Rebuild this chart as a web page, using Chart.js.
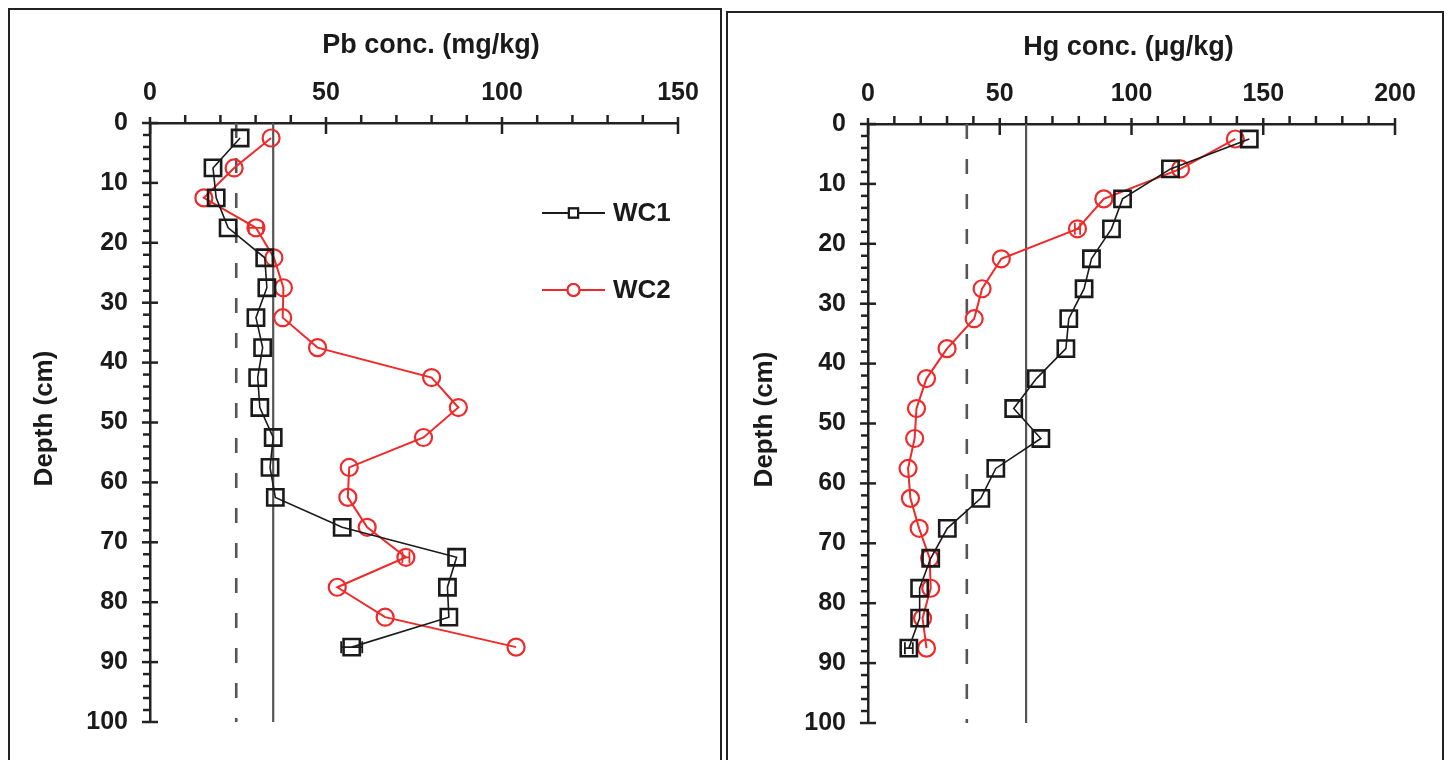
<!DOCTYPE html>
<html><head><meta charset="utf-8">
<script src="https://cdn.jsdelivr.net/npm/chart.js@4.4.0/dist/chart.umd.min.js"></script>
<style>
html,body{margin:0;padding:0;background:#fff;width:1448px;height:760px;overflow:hidden;}
.panel{position:absolute;border:2px solid #222;box-sizing:border-box;}
#p1{left:8px;top:8px;width:714px;height:780px;}
#p2{left:726px;top:11px;width:718px;height:780px;}
canvas{position:absolute;top:0;display:block;}
#c1{left:0}
#c2{left:724px}
</style></head><body>
<div class="panel" id="p1"></div><div class="panel" id="p2"></div>
<canvas id="c1" width="724" height="760"></canvas>
<canvas id="c2" width="724" height="760"></canvas>
<script>
// ---------- data ----------
const depths   = [2.5,7.5,12.5,17.5,22.5,27.5,32.5,37.5,42.5,47.5,52.5,57.5,62.5,67.5,72.5,77.5,82.5,87.5];
const pbWC1    = [25.6,17.9,18.8,22.2,32.6,33.2,30.1,32.0,30.6,31.2,35.0,34.1,35.6,54.6,87.1,84.5,84.9,57.3];
const pbWC2    = [34.4,23.9,15.3,30.1,35.2,37.9,37.7,47.6,80.0,87.6,77.7,56.6,56.2,61.7,72.7,53.2,66.8,104.0];
const pbWC1Err = [0,0,0,0,0,0,0,0,0,0,0,0,0,0,0,0,0,3];
const pbWC2Err = [0,0,0,2,0,0,0,0,0,0,0,0,0,0,1,0,0,0];
const hgWC1    = [144.7,114.8,96.6,92.4,84.8,82.0,76.2,75.1,63.9,55.3,65.6,48.5,42.8,30.1,23.8,19.6,19.6,15.5];
const hgWC2    = [139.4,118.6,89.5,79.5,50.6,43.3,40.3,30.0,22.2,18.4,17.7,15.2,16.1,19.4,23.4,23.8,20.7,22.2];
const hgWC1Err = [0,0,0,0,0,0,0,0,0,0,0,0,0,0,0,0,0,1.5];
const hgWC2Err = [0,0,0,1,0,0,0,0,0,0,0,0,0,0,0,0,0,0];
const pbRef    = [24.5, 35];   // dashed, solid
const hgRef    = [37.5, 60];   // dashed, solid
const seriesNames = ['WC1','WC2'];
const depthTitle = 'Depth (cm)';
const pbTitle = 'Pb conc. (mg/kg)';
const hgTitle = 'Hg conc. (\u00b5g/kg)';
const pbMax = 150, hgMax = 200, depthMax = 100;

// ---------- helpers ----------
const FONT = "'Liberation Sans', Arial, sans-serif";
const TXT = '#1a1a1a';
const pts = (xs, ys) => xs.map((v, i) => ({x: v, y: ys[i]}));

const decor = {
  id: 'decor',
  afterDatasetsDraw(chart, args, o) {
    const {ctx, chartArea: ca, scales: {x, y}} = chart;
    ctx.save();
    // error bars
    chart.data.datasets.forEach(ds => {
      if (!ds.errs) return;
      ctx.strokeStyle = ds.borderColor; ctx.lineWidth = 1.8;
      ds.data.forEach((p, i) => {
        const e = ds.errs[i]; if (!e) return;
        const x1 = x.getPixelForValue(p.x - e), x2 = x.getPixelForValue(p.x + e), py = y.getPixelForValue(p.y);
        ctx.beginPath();
        ctx.moveTo(x1, py); ctx.lineTo(x2, py);
        ctx.moveTo(x1, py - 6); ctx.lineTo(x1, py + 6);
        ctx.moveTo(x2, py - 6); ctx.lineTo(x2, py + 6);
        ctx.stroke();
      });
    });
    ctx.restore();
  },
  afterDraw(chart, args, o) {
    const {ctx, chartArea: ca, scales: {x, y}} = chart;
    ctx.save();
    ctx.strokeStyle = '#222'; ctx.lineWidth = 2.5; ctx.lineCap = 'butt';
    // x ticks (top)
    for (let v = x.min; v <= x.max + 1e-9; v += o.xMinor) {
      const px = x.getPixelForValue(v);
      ctx.beginPath();
      if (Math.abs(v % o.xMajor) < 1e-9) { ctx.moveTo(px, ca.top - 6); ctx.lineTo(px, ca.top + 11); }
      else { ctx.moveTo(px, ca.top - 8); ctx.lineTo(px, ca.top); }
      ctx.stroke();
    }
    // y ticks (left)
    for (let v = y.min; v <= y.max + 1e-9; v += o.yMinor) {
      const py = y.getPixelForValue(v);
      ctx.beginPath();
      if (Math.abs(v % o.yMajor) < 1e-9) { ctx.moveTo(ca.left - 8, py); ctx.lineTo(ca.left + 8, py); }
      else { ctx.moveTo(ca.left - 7, py); ctx.lineTo(ca.left, py); }
      ctx.stroke();
    }
    // titles
    ctx.fillStyle = TXT;
    ctx.font = 'bold 27px ' + FONT;
    ctx.textAlign = 'center'; ctx.textBaseline = 'middle';
    ctx.fillText(o.xTitle, (ca.left + ca.right) / 2 + o.xTitleShift, o.xTitleY);
    ctx.save();
    ctx.translate(o.yTitleX, (ca.top + ca.bottom) / 2 - 4);
    ctx.rotate(-Math.PI / 2);
    ctx.font = 'bold 26px ' + FONT;
    ctx.fillText(o.yTitle, 0, 0);
    ctx.restore();
    // legend
    if (o.legend) {
      const L = o.legend;
      chart.data.datasets.filter(d => seriesNames.includes(d.label)).forEach((d, i) => {
        const ly = L.y + i * L.dy;
        ctx.strokeStyle = d.borderColor; ctx.lineWidth = 2;
        ctx.beginPath(); ctx.moveTo(L.x, ly); ctx.lineTo(L.x + L.w, ly); ctx.stroke();
        ctx.fillStyle = '#fff';
        Chart.helpers.drawPoint(ctx, {pointStyle: d.pointStyle, radius: d.pointStyle === 'rect' ? 6.5 : 6, borderWidth: 2.2, rotation: 0}, L.x + L.w / 2, ly);
        ctx.lineWidth = 2.2; ctx.strokeStyle = d.borderColor;
        Chart.helpers.drawPoint(ctx, {pointStyle: d.pointStyle, radius: d.pointStyle === 'rect' ? 6.5 : 6, borderWidth: 2.2, rotation: 0}, L.x + L.w / 2, ly);
        ctx.fillStyle = TXT; ctx.font = 'bold 26px ' + FONT;
        ctx.textAlign = 'left'; ctx.textBaseline = 'middle';
        ctx.fillText(d.label, L.x + L.w + 8, ly + 1);
      });
    }
    ctx.restore();
  }
};

function makeChart(id, xs1, xs2, e1, e2, ref, xMax, xTicksStep, geom, deco) {
  const refDs = (v, dash) => ({
    label: 'ref', data: [{x: v, y: 0}, {x: v, y: depthMax}], showLine: true,
    borderColor: '#555', borderWidth: dash ? 2.6 : 2.2, borderDash: dash ? [15, 20] : [],
    pointRadius: 0, order: 5
  });
  return new Chart(document.getElementById(id), {
    type: 'scatter',
    data: {
      datasets: [
        {label: seriesNames[0], data: pts(xs1, depths), errs: e1, showLine: true,
         borderColor: '#1a1a1a', borderWidth: 1.6, pointStyle: 'rect', pointRadius: 11.5,
         pointBorderWidth: 2.6, pointBackgroundColor: 'rgba(0,0,0,0)', pointBorderColor: '#1a1a1a', order: 1},
        {label: seriesNames[1], data: pts(xs2, depths), errs: e2, showLine: true,
         borderColor: '#ee2a2a', borderWidth: 2, pointStyle: 'circle', pointRadius: 8.5,
         pointBorderWidth: 2.2, pointBackgroundColor: 'rgba(0,0,0,0)', pointBorderColor: '#ee2a2a', order: 2},
        refDs(ref[0], true), refDs(ref[1], false)
      ]
    },
    options: {
      responsive: false, animation: false, devicePixelRatio: 1,
      layout: {padding: {left: 0, top: 0, right: geom.right, bottom: geom.bottom}},
      plugins: {legend: {display: false}, tooltip: {enabled: false}, decor: deco},
      scales: {
        x: {type: 'linear', position: 'top', min: 0, max: xMax,
            afterFit: s => { s.height = geom.top; },
            grid: {display: false, drawTicks: false},
            border: {display: true, color: '#222', width: 2.5},
            ticks: {stepSize: xTicksStep, padding: 15, color: TXT, font: {family: FONT, size: 25, weight: 'bold'}}},
        y: {type: 'linear', reverse: true, min: 0, max: depthMax,
            afterFit: s => { s.width = geom.left; },
            grid: {display: false, drawTicks: false},
            border: {display: true, color: '#222', width: 2.5},
            ticks: {stepSize: 10, padding: 22, color: TXT, font: {family: FONT, size: 25, weight: 'bold'}}}
      }
    },
    plugins: [decor]
  });
}

makeChart('c1', pbWC1, pbWC2, pbWC1Err, pbWC2Err, pbRef, pbMax, 50,
  {left: 150, top: 123, right: 724 - 678, bottom: 760 - 722},
  {xMinor: 10, xMajor: 50, yMinor: 2, yMajor: 10, xTitle: pbTitle, xTitleShift: 17, xTitleY: 46,
   yTitle: depthTitle, yTitleX: 45, legend: {x: 542, y: 213, w: 63, dy: 77}});
makeChart('c2', hgWC1, hgWC2, hgWC1Err, hgWC2Err, hgRef, hgMax, 50,
  {left: 144, top: 124, right: 724 - 671, bottom: 760 - 724},
  {xMinor: 10, xMajor: 50, yMinor: 2, yMajor: 10, xTitle: hgTitle, xTitleShift: -3, xTitleY: 48,
   yTitle: depthTitle, yTitleX: 41});
</script>
</body></html>
